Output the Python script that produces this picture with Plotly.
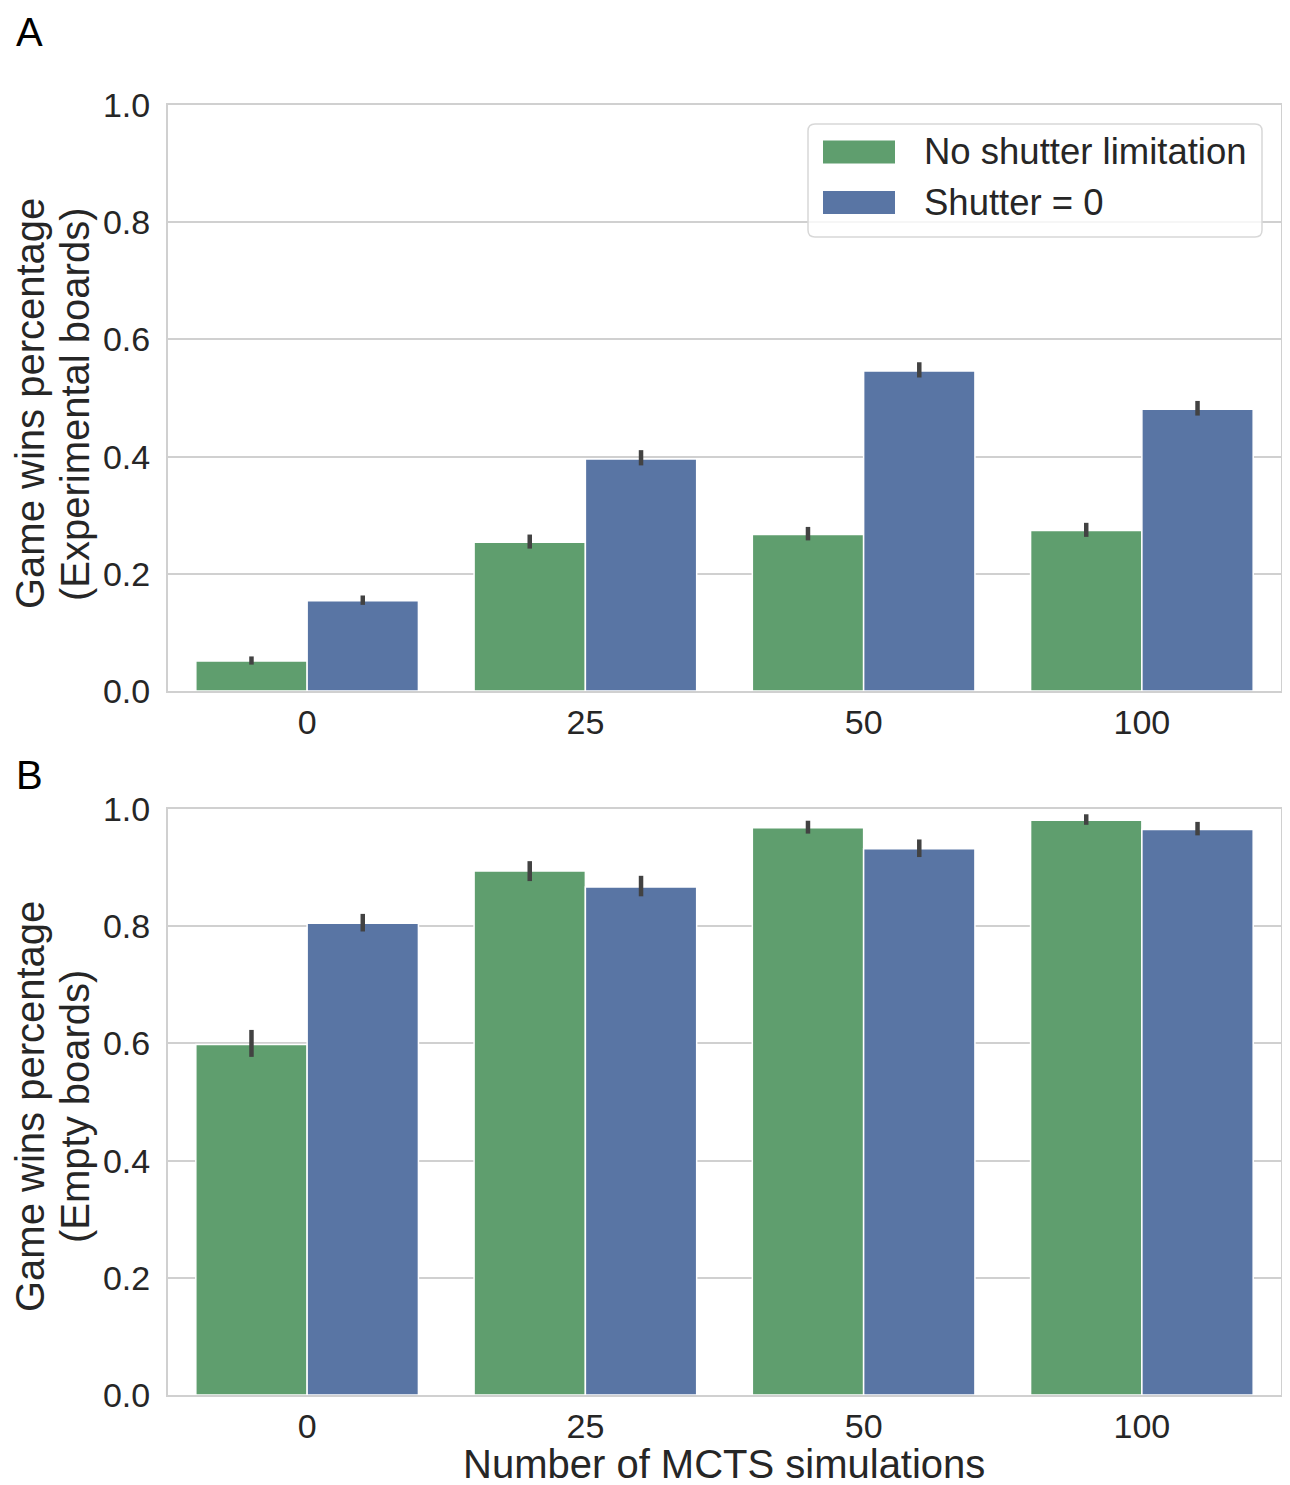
import plotly.graph_objects as go

# ---------------- data ----------------
categories = ["0", "25", "50", "100"]
series_names = ["No shutter limitation", "Shutter = 0"]

# Panel A: experimental boards
a_no_shutter = [0.051, 0.254, 0.267, 0.274]
a_no_shutter_lo = [0.045, 0.243, 0.257, 0.263]
a_no_shutter_hi = [0.059, 0.267, 0.280, 0.287]
a_shutter0 = [0.154, 0.396, 0.546, 0.481]
a_shutter0_lo = [0.147, 0.385, 0.535, 0.470]
a_shutter0_hi = [0.163, 0.411, 0.561, 0.495]

# Panel B: empty boards
b_no_shutter = [0.598, 0.894, 0.968, 0.981]
b_no_shutter_lo = [0.577, 0.877, 0.958, 0.973]
b_no_shutter_hi = [0.623, 0.911, 0.980, 0.991]
b_shutter0 = [0.805, 0.867, 0.932, 0.965]
b_shutter0_lo = [0.791, 0.851, 0.918, 0.955]
b_shutter0_hi = [0.821, 0.886, 0.948, 0.978]

y_ticks = [0.0, 0.2, 0.4, 0.6, 0.8, 1.0]
y_ticktext = ["0.0", "0.2", "0.4", "0.6", "0.8", "1.0"]

ytitle_a = ["Game wins percentage", "(Experimental boards)"]
ytitle_b = ["Game wins percentage", "(Empty boards)"]
xtitle = "Number of MCTS simulations"
panel_labels = ["A", "B"]

# ---------------- style ----------------
OFF = 8                      # default page body margin
W, H = 1290 - OFF, 1485 - OFF
GREEN = "#5f9e6e"
BLUE = "#5975a4"
ERR = "#424242"
TXT = "#262626"
EDGE = "#d0d0d0"
FONT = "Liberation Sans, Arial, sans-serif"


def px(x):
    return (x - OFF) / W


def py(y):
    return 1 - (y - OFF) / H


fig = go.Figure()


def add_bars(vals, lo, hi, color, name, xa, ya):
    fig.add_trace(go.Bar(
        x=categories, y=vals, name=name, marker=dict(color=color, line=dict(color="white", width=1.5)),
        error_y=dict(type="data", symmetric=False,
                     array=[h - v for h, v in zip(hi, vals)],
                     arrayminus=[v - l for v, l in zip(vals, lo)],
                     color=ERR, thickness=4.5, width=0),
        xaxis=xa, yaxis=ya, showlegend=False,
    ))


add_bars(a_no_shutter, a_no_shutter_lo, a_no_shutter_hi, GREEN, series_names[0], "x", "y")
add_bars(a_shutter0, a_shutter0_lo, a_shutter0_hi, BLUE, series_names[1], "x", "y")
add_bars(b_no_shutter, b_no_shutter_lo, b_no_shutter_hi, GREEN, series_names[0], "x2", "y2")
add_bars(b_shutter0, b_shutter0_lo, b_shutter0_hi, BLUE, series_names[1], "x2", "y2")

xdom = [px(168), px(1281)]
ydomA = [py(691), py(105)]
ydomB = [py(1395), py(809)]

xcommon = dict(type="category", categoryorder="array", categoryarray=categories,
               range=[-0.5, 3.5], showline=True, mirror=True, linecolor=EDGE, linewidth=2,
               showgrid=False, zeroline=False, ticks="", ticklabelstandoff=0, automargin=False,
               tickfont=dict(family=FONT, size=34, color=TXT), domain=xdom, fixedrange=True)
ycommon = dict(range=[0, 1.0], tickvals=y_ticks, ticktext=y_ticktext, showline=True, mirror=True,
               linecolor=EDGE, linewidth=2, showgrid=True, gridcolor=EDGE, gridwidth=2,
               zeroline=False, ticks="", ticklabelstandoff=9, automargin=False,
               tickfont=dict(family=FONT, size=34, color=TXT), fixedrange=True)

fig.update_layout(
    width=W, height=H, margin=dict(l=0, r=0, t=0, b=0, pad=0, autoexpand=False),
    paper_bgcolor="white", plot_bgcolor="white",
    barmode="group", bargap=0.2, bargroupgap=0,
    font=dict(family=FONT, color=TXT),
    xaxis=dict(xcommon, anchor="y"),
    yaxis=dict(ycommon, domain=ydomA, anchor="x"),
    xaxis2=dict(xcommon, anchor="y2"),
    yaxis2=dict(ycommon, domain=ydomB, anchor="x2"),
)

# ---------------- annotations (titles, panel letters) ----------------
ann = []
for lab, yy in zip(panel_labels, [32, 775]):
    ann.append(dict(text=lab, x=px(15), y=py(yy), xref="paper", yref="paper", xanchor="left",
                    yanchor="middle", showarrow=False, borderpad=0,
                    font=dict(family=FONT, size=40, color="black")))
for lines, yc in [(ytitle_a, 404), (ytitle_b, 1107)]:
    for txt, xc in zip(lines, [30, 75]):
        ann.append(dict(text=txt, x=px(xc), y=py(yc), xref="paper", yref="paper", xanchor="center",
                        yanchor="middle", textangle=-90, showarrow=False, borderpad=0,
                        font=dict(family=FONT, size=40, color=TXT)))
ann.append(dict(text=xtitle, x=px(724), y=py(1464), xref="paper", yref="paper", borderpad=0,
                xanchor="center", yanchor="middle", showarrow=False, font=dict(family=FONT, size=40, color=TXT)))

# ---------------- legend (drawn) ----------------
lx0, lx1, ly0, ly1, r = 808, 1262, 124, 237, 7


def rounded_path(x0, y0, x1, y1, r):
    p = [f"M{px(x0 + r)},{py(y0)}", f"L{px(x1 - r)},{py(y0)}", f"Q{px(x1)},{py(y0)} {px(x1)},{py(y0 + r)}",
         f"L{px(x1)},{py(y1 - r)}", f"Q{px(x1)},{py(y1)} {px(x1 - r)},{py(y1)}",
         f"L{px(x0 + r)},{py(y1)}", f"Q{px(x0)},{py(y1)} {px(x0)},{py(y1 - r)}",
         f"L{px(x0)},{py(y0 + r)}", f"Q{px(x0)},{py(y0)} {px(x0 + r)},{py(y0)}", "Z"]
    return " ".join(p)


shapes = [dict(type="path", path=rounded_path(lx0, ly0, lx1, ly1, r), xref="paper", yref="paper",
               fillcolor="rgba(255,255,255,0.8)", line=dict(color="#d8d8d8", width=1.5), layer="above")]
for i, (nm, col) in enumerate(zip(series_names, [GREEN, BLUE])):
    cy = 152 + i * 50.5
    shapes.append(dict(type="rect", xref="paper", yref="paper", x0=px(823), x1=px(895),
                       y0=py(cy - 11.5), y1=py(cy + 11.5), fillcolor=col, line=dict(width=0), layer="above"))
    ann.append(dict(text=nm, x=px(922), y=py(cy), xref="paper", yref="paper", xanchor="left", yanchor="middle",
                    showarrow=False, font=dict(family=FONT, size=36.5, color=TXT)))

fig.update_layout(annotations=ann, shapes=shapes)
fig.write_html("out.html")
